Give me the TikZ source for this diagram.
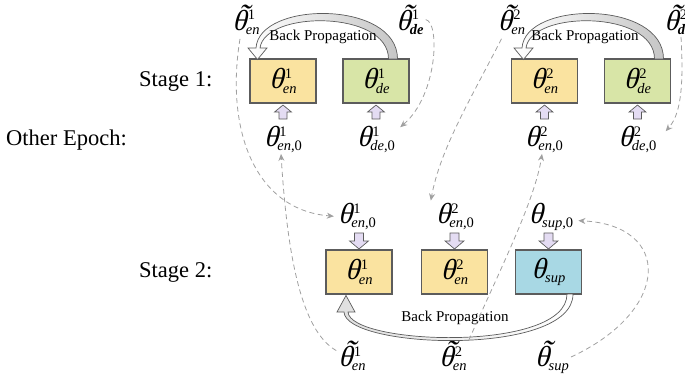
\documentclass[tikz,border=0pt]{standalone}
\usepackage{fontspec}
\setmainfont{Liberation Serif}
\newfontfamily\thfont[FakeSlant=0.25]{Liberation Serif}
\usepackage{graphicx}
\usetikzlibrary{arrows.meta}
\definecolor{enY}{HTML}{FAE3A0}
\definecolor{deG}{HTML}{D8E5A7}
\definecolor{supB}{HTML}{A8D8E4}
\definecolor{lav}{HTML}{E4DCF3}
\definecolor{bord}{HTML}{5C5C5C}
\definecolor{dgray}{HTML}{A0A0A0}
\newcommand{\thmain}{{\fontsize{29}{29}\selectfont\thfont θ}}
\newcommand{\thtil}{{\fontsize{29}{29}\selectfont\thfont\rlap{\kern4pt\raisebox{4pt}{\scalebox{1.15}[1.1]{˜}}}θ}}
\newcommand{\scrp}[2]{{\fontsize{14.5}{14.5}\selectfont\kern1.5pt\rlap{\raisebox{10pt}{#1}}\kern-2pt\raisebox{-4.5pt}{#2}}}
\newcommand{\thlab}[2]{\thmain\scrp{#1}{#2}}
\newcommand{\ttlab}[2]{\thtil\scrp{#1}{#2}}
\newcommand{\uparr}[1]{\draw[push] #1 -- ++(8.5,7) -- ++(-4.5,0) -- ++(0,7) -- ++(-8,0) -- ++(0,-7) -- ++(-4.5,0) -- cycle;}
\newcommand{\dnarr}[1]{\draw[push] #1 -- ++(9.5,-8) -- ++(-5,0) -- ++(0,-8) -- ++(-9,0) -- ++(0,8) -- ++(-5,0) -- cycle;}
\begin{document}
\begin{tikzpicture}[x=1pt,y=-1pt,
  box/.style={draw=bord,line width=1.1pt,minimum width=66pt,minimum height=44pt,inner sep=0pt},
  lab/.style={inner sep=0pt,anchor=base},
  stg/.style={inner sep=0pt,anchor=west,font=\fontsize{22.5}{22.5}\selectfont},
  bp/.style={inner sep=0pt,font=\fontsize{15}{15}\selectfont},
  push/.style={fill=lav,draw=bord,line width=0.7pt,line join=miter},
  dsh/.style={draw=dgray,line width=0.8pt,dash pattern=on 5pt off 3.5pt,-{Stealth[length=7pt,width=6pt]}},
  bparc/.style={draw=bord,line width=0.7pt,left color=white,right color=gray!45},
  bparcb/.style={draw=bord,line width=0.7pt,left color=gray!25,right color=white}]
\useasboundingbox (0,0) rectangle (685,380);

% left labels
\node[stg] (st1) at (139,81) {Stage 1:};
\node[stg] (oe) at (6,140) {Other Epoch:};
\node[stg] (st2) at (139,272) {Stage 2:};

% stage 1 boxes
\node[box,fill=enY] (s1e1) at (283,81) {\thlab{1}{\textit{en}}};
\node[box,fill=deG] (s1d1) at (376,81) {\thlab{1}{\textit{de}}};
\node[box,fill=enY] (s1e2) at (544.5,81) {\thlab{2}{\textit{en}}};
\node[box,fill=deG] (s1d2) at (637.5,81) {\thlab{2}{\textit{de}}};

% stage 2 boxes
\node[box,fill=enY] (s2e1) at (359,272) {\thlab{1}{\textit{en}}};
\node[box,fill=enY] (s2e2) at (454.5,272) {\thlab{2}{\textit{en}}};
\node[box,fill=supB] (s2s) at (548.5,272) {\thlab{}{\textit{sup}}};

% push arrows
\uparr{([yshift=-1.5pt]s1e1.south)}
\uparr{([yshift=-1.5pt]s1d1.south)}
\uparr{([yshift=-1.5pt]s1e2.south)}
\uparr{([yshift=-1.5pt]s1d2.south)}
\dnarr{([yshift=0.5pt]s2e1.north)}
\dnarr{([yshift=0.5pt]s2e2.north)}
\dnarr{([yshift=0.5pt]s2s.north)}

% labels stage 1
\node[lab] (tA) at (246,30) {\ttlab{1}{\textit{en}}};
\node[lab] (tB) at (410,30) {\ttlab{1}{\textbf{\textit{de}}}};
\node[lab] (tC) at (511.5,30) {\ttlab{2}{\textit{en}}};
\node[lab] (tD) at (678,30) {\ttlab{2}{\textbf{\textit{de}}}};
\node[lab] (l1e1) at (283,146) {\thlab{1}{\textit{en},0}};
\node[lab] (l1d1) at (376,146) {\thlab{1}{\textit{de},0}};
\node[lab] (l1e2) at (544,146) {\thlab{2}{\textit{en},0}};
\node[lab] (l1d2) at (637.5,146) {\thlab{2}{\textit{de},0}};

% labels stage 2
\node[lab] (uA) at (357,223) {\thlab{1}{\textit{en},0}};
\node[lab] (uB) at (455,223) {\thlab{2}{\textit{en},0}};
\node[lab] (uC) at (551,223) {\thlab{}{\textit{sup},0}};
\node[lab] (bA) at (352,366) {\ttlab{1}{\textit{en}}};
\node[lab] (bB) at (453,366) {\ttlab{2}{\textit{en}}};
\node[lab] (bC) at (552,366) {\ttlab{}{\textit{sup}}};

% back propagation arrows stage 1
\path[bparc] (397.5,59) .. controls (397.5,0) and (259,0.5) .. (256,48) -- (248,48) -- (257.5,59.5) -- (267,48) -- (260,48) .. controls (265,10) and (388.5,10) .. (388.5,59) -- cycle;
\node[bp] (bp1) at (323,37) {Back Propagation};
\begin{scope}[xshift=266pt]
\path[bparc] (397.5,59) .. controls (397.5,0) and (259,0.5) .. (256,48) -- (248,48) -- (257.5,59.5) -- (267,48) -- (260,48) .. controls (265,10) and (388.5,10) .. (388.5,59) -- cycle;
\end{scope}
\node[bp] (bp2) at (585,37) {Back Propagation};

% back propagation arrow stage 2
\path[bparcb] (573,294) .. controls (573,357) and (345.5,349) .. (344,312) -- (337,312) -- (346,295.5) -- (355,312) -- (348,312) .. controls (350,345) and (567,353) .. (567,294) -- cycle;
\node[bp] (bp3) at (455,318) {Back Propagation};

% dashed connectors
\draw[dsh] ([xshift=-6pt,yshift=-4pt]tA.south) .. controls (225,130) and (255,210) .. ([xshift=-4pt]uA.west);
\draw[dsh] ([xshift=-2pt,yshift=5pt]bA.west) .. controls (300,330) and (287,250) .. ([xshift=-2pt,yshift=-1pt]l1e1.south);
\draw[dsh] ([xshift=2pt]tB.east) .. controls (440,22) and (438,95) .. ([xshift=5pt,yshift=12pt]l1d1.east);
\draw[dsh] ([xshift=-10pt,yshift=-4pt]tC.south) .. controls (470,100) and (440,150) .. ([xshift=-5pt,yshift=2pt]uB.north west);
\draw[dsh] ([xshift=2pt]bB.north east) .. controls (500,270) and (535,200) .. ([xshift=-2pt,yshift=-1pt]l1e2.south);
\draw[dsh] ([xshift=3pt,yshift=-2pt]tD.south) .. controls (684,90) and (680,115) .. ([xshift=9pt,yshift=8pt]l1d2.east);
\draw[dsh] ([xshift=2pt]bC.east) .. controls (672,310) and (672,225) .. ([xshift=5pt,yshift=-4pt]uC.east);
\end{tikzpicture}
\end{document}
